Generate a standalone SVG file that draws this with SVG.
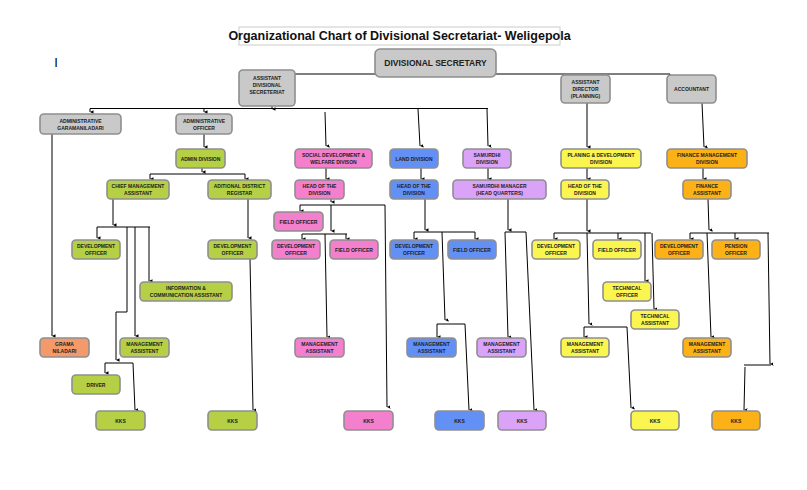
<svg xmlns="http://www.w3.org/2000/svg" width="807" height="490" viewBox="0 0 807 490">
<defs>
<marker id="a" viewBox="0 0 10 10" refX="5" refY="10" markerWidth="3.5" markerHeight="3.5" orient="auto-start-reverse" markerUnits="userSpaceOnUse"><path d="M0,0 L10,0 L5,10 z" fill="#000"/></marker>
</defs>
<style>
.n{stroke:#8e8e8e;stroke-width:1.6}
.g{fill:#c9c9c9}.gr{fill:#b5d045}.p{fill:#f47fcd}.b{fill:#6390f5}.pu{fill:#dba3f7}.y{fill:#fbf550}.o{fill:#fcb117}.s{fill:#f49a6a}
text{font-family:"Liberation Sans",Arial,sans-serif;font-weight:bold;font-size:5px;text-anchor:middle;fill:#222}
.c path{fill:none;stroke:#000;stroke-width:1}
.c .ar{marker-end:url(#a)}
</style>
<rect x="239" y="27" width="321" height="18" fill="#fff" stroke="#ccc"/>
<text x="399.5" y="40" style="font-size:12.5px;fill:#111">Organizational Chart of Divisional Secretariat- Weligepola</text>
<text x="56" y="67" style="font-size:13px;font-weight:normal;fill:#000">I</text>

<g class="c">
<path d="M295,74 H670 M670,74 V75"/>
<path d="M90,108.5 H488"/>
<path class="ar" d="M90,108.5 V112"/><path class="ar" d="M204,108.5 V112"/><path class="ar" d="M272,106 V109"/>
<path class="ar" d="M325,112 L326,146"/><path class="ar" d="M418,109 L420,146"/><path class="ar" d="M487,109 L488,146"/>
<path class="ar" d="M587,103 V147"/><path class="ar" d="M702,103 L704,147"/>
<path class="ar" d="M204,134 V147"/>
<path class="ar" d="M202,168 V172"/><path d="M150,174 H245"/><path class="ar" d="M150,174 V179"/><path class="ar" d="M245,174 V179"/>
<path class="ar" d="M326,168 V179"/><path class="ar" d="M421,168 V179"/><path class="ar" d="M488,168 V179"/><path class="ar" d="M587,168 V179"/><path class="ar" d="M703,168 V179"/>
<!-- green -->
<path d="M52,134 V336" class="ar"/>
<path class="ar" d="M113,199 V225"/><path d="M97,227 H150"/><path class="ar" d="M97,227 V238"/>
<path class="ar" d="M149,227 V281"/><path class="ar" d="M135,227 V336"/>
<path d="M127,227 V312 H116"/><path class="ar" d="M116,312 V360"/>
<path d="M105,363 H133"/><path class="ar" d="M105,363 V373"/><path class="ar" d="M133,363 L135,410"/>
<path class="ar" d="M248,199 V238"/><path class="ar" d="M250,259 L253,410"/>
<!-- pink -->
<path class="ar" d="M331,199 V202"/><path d="M300,205 H385"/><path class="ar" d="M300,205 V211"/>
<path class="ar" d="M331,205 V231"/><path d="M302,234 H347"/><path class="ar" d="M302,234 V239"/><path class="ar" d="M346,234 V239"/>
<path class="ar" d="M325,234 L327,337"/><path class="ar" d="M385,205 L387,407"/>
<!-- blue -->
<path class="ar" d="M425,199 V230"/><path d="M414,232 H475"/><path class="ar" d="M414,232 V239"/><path class="ar" d="M475,232 V239"/>
<path class="ar" d="M442,232 L445,320"/><path d="M437,324 H465"/><path class="ar" d="M437,324 V337"/><path class="ar" d="M465,324 L469,410"/>
<!-- purple -->
<path class="ar" d="M508,199 V230"/><path d="M505,232 H526"/><path class="ar" d="M505,232 L508,337"/><path class="ar" d="M526,232 L534,410"/>
<!-- yellow -->
<path class="ar" d="M587,199 V231"/><path d="M554,233 H651"/><path class="ar" d="M554,233 V239"/><path class="ar" d="M618,233 V239"/>
<path class="ar" d="M645,233 V281"/><path class="ar" d="M652,233 L654,309"/>
<path class="ar" d="M587,233 L589,324"/><path d="M584,327 H627"/><path class="ar" d="M584,327 V337"/><path class="ar" d="M627,327 L631,408"/>
<!-- orange -->
<path class="ar" d="M708,199 L709,230"/><path d="M690,233 H769"/><path class="ar" d="M690,233 V239"/><path class="ar" d="M735,233 V239"/>
<path class="ar" d="M707,233 L711,337"/><path class="ar" d="M768,233 L770,364"/><path d="M744,365 H771"/><path class="ar" d="M745,367 L744,410"/>
</g>

<g id="ds"><rect class="n g" x="375" y="49" width="121" height="28" rx="5"/><text x="435.5" y="66" style="font-size:8.5px">DIVISIONAL SECRETARY</text></g>
<g id="ads"><rect class="n g" x="239" y="70" width="56" height="36" rx="4"/><text x="267" y="80">ASSISTANT</text><text x="267" y="87">DIVISIONAL</text><text x="267" y="94">SECRETERIAT</text></g>
<g id="adp"><rect class="n g" x="561" y="75" width="49" height="28" rx="4"/><text x="585.5" y="84">ASSISTANT</text><text x="585.5" y="91">DIRECTOR</text><text x="585.5" y="98">(PLANNING)</text></g>
<g id="acc"><rect class="n g" x="667" y="75" width="49" height="28" rx="4"/><text x="691.5" y="91">ACCOUNTANT</text></g>
<g id="agn"><rect class="n g" x="40" y="114" width="81" height="20" rx="4"/><text x="80.5" y="123">ADMINISTRATIVE</text><text x="80.5" y="130">GARAMANILADARI</text></g>
<g id="ao"><rect class="n g" x="176" y="114" width="56" height="20" rx="4"/><text x="204" y="123">ADMINISTRATIVE</text><text x="204" y="130">OFFICER</text></g>
<g id="adm"><rect class="n gr" x="176" y="149" width="49" height="19" rx="4"/><text x="200.5" y="161">ADMIN DIVISION</text></g>
<g id="cma"><rect class="n gr" x="107" y="180" width="62" height="19" rx="4"/><text x="138" y="188">CHIEF MANAGEMENT</text><text x="138" y="195">ASSISTANT</text></g>
<g id="adr"><rect class="n gr" x="208" y="180" width="63" height="19" rx="4"/><text x="239.5" y="188">ADITIONAL DISTRICT</text><text x="239.5" y="195">REGISTAR</text></g>
<g id="sd"><rect class="n p" x="295" y="149" width="77" height="19" rx="4"/><text x="333.5" y="157">SOCIAL DEVELOPMENT &amp;</text><text x="333.5" y="164">WELFARE DIVISON</text></g>
<g id="sdh"><rect class="n p" x="295" y="180" width="49" height="19" rx="4"/><text x="319.5" y="188">HEAD OF THE</text><text x="319.5" y="195">DIVISION</text></g>
<g id="ld"><rect class="n b" x="390" y="149" width="48" height="19" rx="4"/><text x="414" y="161">LAND DIVISION</text></g>
<g id="ldh"><rect class="n b" x="390" y="180" width="48" height="19" rx="4"/><text x="414" y="188">HEAD OF THE</text><text x="414" y="195">DIVISION</text></g>
<g id="sm"><rect class="n pu" x="463" y="149" width="48" height="19" rx="4"/><text x="487" y="157">SAMURDHI</text><text x="487" y="164">DIVISION</text></g>
<g id="smm"><rect class="n pu" x="453" y="180" width="93" height="19" rx="4"/><text x="499.5" y="188">SAMURDHI MANAGER</text><text x="499.5" y="195">(HEAD QUARTERS)</text></g>
<g id="pd"><rect class="n y" x="561" y="149" width="80" height="19" rx="4"/><text x="601" y="157">PLANING &amp; DEVELOPMENT</text><text x="601" y="164">DIVISION</text></g>
<g id="pdh"><rect class="n y" x="561" y="180" width="48" height="19" rx="4"/><text x="585" y="188">HEAD OF THE</text><text x="585" y="195">DIVISION</text></g>
<g id="fm"><rect class="n o" x="667" y="149" width="80" height="19" rx="4"/><text x="707" y="157">FINANCE MANAGEMENT</text><text x="707" y="164">DIVISION</text></g>
<g id="fa"><rect class="n o" x="683" y="180" width="48" height="19" rx="4"/><text x="707" y="188">FINANCE</text><text x="707" y="195">ASSISTANT</text></g>

<g id="gdo1"><rect class="n gr" x="72" y="240" width="48" height="19" rx="4"/><text x="96" y="248">DEVELOPMENT</text><text x="96" y="255">OFFICER</text></g>
<g id="gica"><rect class="n gr" x="140" y="282" width="92" height="19" rx="4"/><text x="186" y="290">INFORMATION &amp;</text><text x="186" y="297">COMMUNICATION ASSISTANT</text></g>
<g id="gn"><rect class="n s" x="40" y="338" width="49" height="19" rx="4"/><text x="64.5" y="346">GRAMA</text><text x="64.5" y="353">NILADARI</text></g>
<g id="gma"><rect class="n gr" x="120" y="338" width="49" height="19" rx="4"/><text x="144.5" y="346">MANAGEMENT</text><text x="144.5" y="353">ASSISTENT</text></g>
<g id="gdr"><rect class="n gr" x="72" y="375" width="48" height="19" rx="4"/><text x="96" y="387">DRIVER</text></g>
<g id="gk1"><rect class="n gr" x="96" y="411" width="49" height="19" rx="4"/><text x="120.5" y="423">KKS</text></g>
<g id="gdo2"><rect class="n gr" x="208" y="240" width="49" height="19" rx="4"/><text x="232.5" y="248">DEVELOPMENT</text><text x="232.5" y="255">OFFICER</text></g>
<g id="gk2"><rect class="n gr" x="208" y="411" width="49" height="19" rx="4"/><text x="232.5" y="423">KKS</text></g>

<g id="pfo1"><rect class="n p" x="274" y="212" width="49" height="19" rx="4"/><text x="298.5" y="224">FIELD OFFICER</text></g>
<g id="pdo"><rect class="n p" x="272" y="240" width="48" height="19" rx="4"/><text x="296" y="248">DEVELOPMENT</text><text x="296" y="255">OFFICER</text></g>
<g id="pfo2"><rect class="n p" x="330" y="240" width="48" height="19" rx="4"/><text x="354" y="252">FIELD OFFICER</text></g>
<g id="pma"><rect class="n p" x="295" y="338" width="49" height="19" rx="4"/><text x="319.5" y="346">MANAGEMENT</text><text x="319.5" y="353">ASSISTANT</text></g>
<g id="pk"><rect class="n p" x="344" y="411" width="49" height="19" rx="4"/><text x="368.5" y="423">KKS</text></g>

<g id="bdo"><rect class="n b" x="390" y="240" width="48" height="19" rx="4"/><text x="414" y="248">DEVELOPMENT</text><text x="414" y="255">OFFICER</text></g>
<g id="bfo"><rect class="n b" x="448" y="240" width="48" height="19" rx="4"/><text x="472" y="252">FIELD OFFICER</text></g>
<g id="bma"><rect class="n b" x="407" y="338" width="49" height="19" rx="4"/><text x="431.5" y="346">MANAGEMENT</text><text x="431.5" y="353">ASSISTANT</text></g>
<g id="bk"><rect class="n b" x="435" y="411" width="49" height="19" rx="4"/><text x="459.5" y="423">KKS</text></g>

<g id="uma"><rect class="n pu" x="477" y="338" width="49" height="19" rx="4"/><text x="501.5" y="346">MANAGEMENT</text><text x="501.5" y="353">ASSISTANT</text></g>
<g id="uk"><rect class="n pu" x="498" y="411" width="48" height="19" rx="4"/><text x="522" y="423">KKS</text></g>

<g id="ydo"><rect class="n y" x="532" y="240" width="48" height="19" rx="4"/><text x="556" y="248">DEVELOPMENT</text><text x="556" y="255">OFFICER</text></g>
<g id="yfo"><rect class="n y" x="593" y="240" width="48" height="19" rx="4"/><text x="617" y="252">FIELD OFFICER</text></g>
<g id="yto"><rect class="n y" x="603" y="282" width="48" height="19" rx="4"/><text x="627" y="290">TECHNICAL</text><text x="627" y="297">OFFICER</text></g>
<g id="yta"><rect class="n y" x="631" y="310" width="48" height="19" rx="4"/><text x="655" y="318">TECHNICAL</text><text x="655" y="325">ASSISTANT</text></g>
<g id="yma"><rect class="n y" x="561" y="338" width="48" height="19" rx="4"/><text x="585" y="346">MANAGEMENT</text><text x="585" y="353">ASSISTANT</text></g>
<g id="yk"><rect class="n y" x="631" y="411" width="48" height="19" rx="4"/><text x="655" y="423">KKS</text></g>

<g id="odo"><rect class="n o" x="655" y="240" width="48" height="19" rx="4"/><text x="679" y="248">DEVELOPMENT</text><text x="679" y="255">OFFICER</text></g>
<g id="opo"><rect class="n o" x="712" y="240" width="48" height="19" rx="4"/><text x="736" y="248">PENSION</text><text x="736" y="255">OFFICER</text></g>
<g id="oma"><rect class="n o" x="683" y="338" width="48" height="19" rx="4"/><text x="707" y="346">MANAGEMENT</text><text x="707" y="353">ASSISTANT</text></g>
<g id="ok"><rect class="n o" x="712" y="411" width="48" height="19" rx="4"/><text x="736" y="423">KKS</text></g>
</svg>
